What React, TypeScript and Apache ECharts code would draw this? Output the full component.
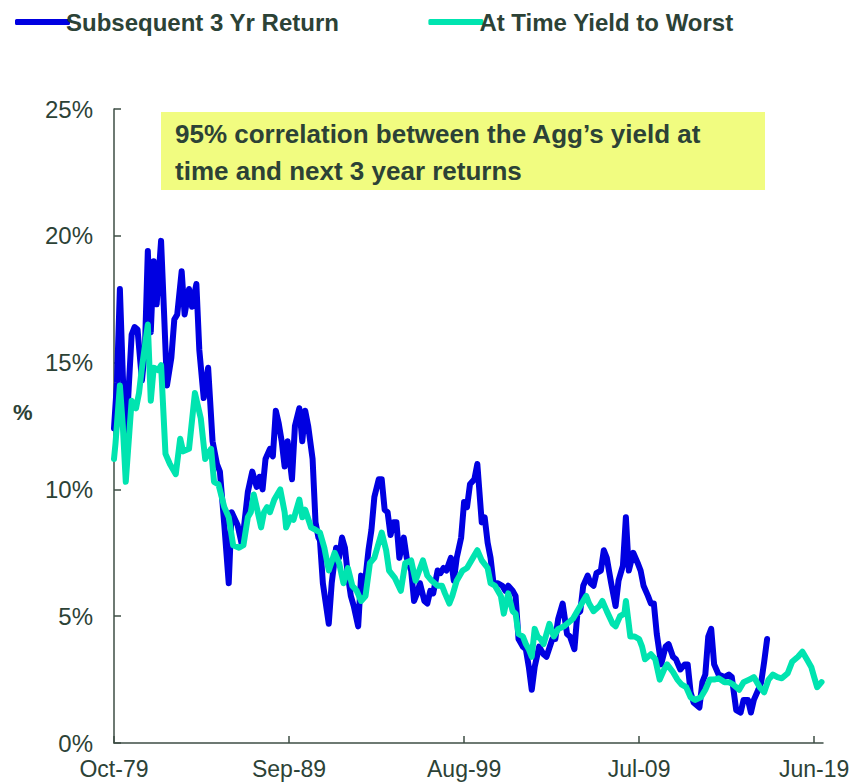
import React, { useEffect, useRef } from "react";
import * as echarts from "echarts";

// x values are months since Oct-1979
const xTickMonths = [0, 119, 238, 357, 476];
const xTickLabels = ["Oct-79", "Sep-89", "Aug-99", "Jul-09", "Jun-19"];
const yTicks = [0, 5, 10, 15, 20, 25];

const seriesNames = ["Subsequent 3 Yr Return", "At Time Yield to Worst"];

// Subsequent 3 Yr Return (%): [month, value]
const returnData = [
  [0, 12.4], [2, 14.2], [4, 17.9], [6, 14.5], [8, 11.8], [10, 14.0], [12, 16.1], [14, 16.4], [16, 16.3], [19, 14.3],
  [21, 15.5], [23, 19.4], [25, 16.2], [27, 19.0], [29, 17.3], [32, 19.8], [34, 17.0], [36, 14.1], [39, 15.2], [41, 16.7],
  [43, 16.9], [46, 18.6], [48, 16.9], [51, 17.9], [53, 17.2], [56, 18.1], [58, 15.5], [61, 13.6], [64, 14.8], [67, 11.9],
  [70, 11.0], [72, 10.7], [75, 8.6], [78, 6.3], [80, 9.1], [84, 8.6], [87, 7.8], [91, 9.9], [94, 10.7], [97, 10.1],
  [99, 10.5], [101, 10.0], [103, 11.2], [106, 11.6], [108, 11.3], [110, 13.1], [112, 12.6], [114, 11.9], [116, 10.9], [118, 11.9],
  [121, 10.4], [123, 12.5], [126, 13.2], [128, 11.9], [130, 13.1], [132, 12.5], [135, 11.2], [137, 8.7], [139, 8.1], [140, 8.0],
  [142, 6.3], [146, 4.7], [148, 6.3], [151, 7.7], [153, 7.3], [155, 8.1], [157, 7.7], [159, 6.6], [161, 5.8], [163, 5.4],
  [166, 4.6], [168, 6.6], [170, 6.0], [173, 7.6], [175, 8.4], [177, 9.7], [180, 10.4], [182, 10.4], [184, 9.2], [186, 9.1],
  [188, 8.2], [190, 8.7], [192, 8.7], [194, 7.3], [197, 8.1], [199, 7.3], [202, 6.8], [204, 5.6], [206, 5.9], [208, 6.3],
  [211, 5.6], [213, 5.5], [215, 6.0], [217, 5.9], [220, 6.8], [222, 6.7], [224, 6.9], [226, 6.8], [229, 7.3], [231, 6.4],
  [233, 7.3], [236, 8.1], [238, 9.5], [240, 9.3], [242, 10.2], [245, 10.4], [247, 11.0], [250, 8.7], [252, 8.9], [254, 7.9],
  [256, 7.3], [258, 6.3], [261, 6.3], [264, 6.2], [266, 6.0], [268, 6.2], [271, 6.0], [273, 5.8], [275, 4.1], [278, 3.8],
  [280, 3.7], [282, 3.0], [284, 2.1], [286, 3.0], [289, 3.8], [292, 3.5], [294, 3.4], [298, 4.1], [300, 4.1], [302, 4.9],
  [305, 5.5], [308, 4.3], [310, 4.2], [313, 3.7], [315, 5.1], [317, 5.2], [319, 6.2], [322, 6.6], [324, 6.3], [326, 6.2],
  [328, 6.7], [331, 6.8], [333, 7.6], [335, 7.3], [338, 6.3], [341, 5.4], [343, 6.4], [346, 7.0], [348, 8.9], [350, 6.8],
  [353, 7.5], [356, 7.1], [358, 6.8], [360, 6.2], [363, 5.8], [365, 5.5], [367, 5.5], [369, 4.3], [372, 3.1], [375, 3.8],
  [377, 3.9], [380, 3.4], [382, 3.3], [385, 2.9], [388, 3.1], [390, 3.1], [392, 2.0], [394, 1.6], [398, 1.4], [400, 2.4],
  [402, 2.7], [404, 4.2], [406, 4.5], [408, 3.1], [411, 2.7], [415, 2.6], [418, 2.7], [420, 2.6], [423, 1.3], [426, 1.2],
  [428, 1.7], [431, 1.7], [433, 1.2], [435, 1.7], [438, 2.1], [440, 2.4], [442, 3.2], [444, 4.1],
];

// At Time Yield to Worst (%): [month, value]
const yieldData = [
  [0, 11.2], [1, 11.8], [4, 14.1], [6, 12.5], [8, 10.3], [12, 13.5], [15, 13.2], [17, 13.8], [19, 14.8], [23, 16.5],
  [25, 13.5], [27, 14.8], [30, 14.7], [32, 14.9], [35, 11.4], [38, 11.0], [42, 10.6], [45, 12.0], [47, 11.5], [51, 11.6],
  [55, 13.8], [59, 12.8], [62, 11.2], [66, 11.6], [68, 10.3], [71, 10.2], [75, 9.3], [78, 8.9], [81, 7.8], [85, 7.7],
  [88, 7.8], [91, 8.9], [93, 9.1], [95, 9.8], [97, 9.3], [100, 8.5], [102, 9.1], [104, 9.3], [106, 9.1], [109, 9.6],
  [111, 9.8], [113, 10.0], [116, 9.1], [117, 8.5], [120, 8.9], [122, 8.8], [126, 9.6], [128, 8.9], [130, 9.2], [134, 8.5],
  [137, 8.4], [140, 8.3], [143, 7.7], [146, 6.8], [150, 7.5], [153, 7.1], [156, 6.3], [159, 6.9], [162, 6.2], [165, 6.0],
  [168, 5.6], [171, 5.8], [174, 7.1], [177, 7.3], [179, 7.7], [182, 8.3], [185, 7.6], [187, 6.8], [191, 6.5], [195, 6.0],
  [198, 7.1], [202, 7.2], [205, 6.4], [210, 7.2], [213, 6.6], [216, 6.4], [220, 6.2], [223, 6.2], [225, 5.9], [228, 5.5],
  [230, 5.8], [233, 6.4], [237, 6.8], [240, 6.9], [244, 7.3], [247, 7.6], [250, 7.2], [254, 6.9], [256, 6.3], [259, 6.2],
  [263, 5.8], [265, 5.1], [268, 5.9], [271, 5.2], [273, 5.1], [275, 4.3], [278, 4.2], [280, 3.9], [282, 3.7], [284, 3.4],
  [286, 4.5], [288, 4.2], [290, 4.1], [292, 3.9], [296, 4.7], [299, 4.2], [302, 4.5], [306, 4.6], [308, 4.7], [312, 4.9],
  [315, 5.2], [318, 5.5], [321, 5.8], [323, 5.5], [326, 5.2], [330, 5.4], [332, 5.6], [335, 5.2], [339, 4.7], [341, 4.6],
  [344, 5.0], [347, 5.1], [348, 5.6], [351, 4.2], [354, 4.2], [357, 4.1], [359, 3.8], [361, 3.3], [365, 3.5], [368, 3.3],
  [371, 2.5], [374, 2.9], [376, 3.1], [380, 2.8], [383, 2.5], [386, 2.3], [389, 2.2], [392, 1.8], [395, 1.7], [399, 1.8],
  [402, 2.1], [405, 2.5], [408, 2.5], [411, 2.55], [415, 2.4], [418, 2.4], [421, 2.3], [425, 2.1], [428, 2.4], [432, 2.5],
  [435, 2.6], [439, 2.2], [442, 2.0], [445, 2.5], [448, 2.7], [451, 2.6], [454, 2.55], [458, 2.75], [461, 3.2], [465, 3.4],
  [468, 3.6], [471, 3.3], [474, 3.0], [476, 2.6], [478, 2.2], [481, 2.4],
];

const noteLines = [
  "95% correlation between the Agg\u2019s yield at",
  "time and next 3 year returns",
];

const TEXT = "#2C4236";
const AXIS = "#3E4E45";
const BLUE = "#0000E1";
const GREEN = "#00E4B0";
const FONT = '"Liberation Sans", Arial, sans-serif';

export default function App() {
  const ref = useRef<HTMLDivElement>(null);

  useEffect(() => {
    if (!ref.current) return;
    const chart = echarts.init(ref.current, null, { renderer: "svg" });
    chart.setOption({
      animation: false,
      backgroundColor: "#ffffff",
      textStyle: { fontFamily: FONT },
      legend: {
        left: 10,
        top: 5,
        itemWidth: 55,
        itemHeight: 6,
        itemGap: 89,
        icon: "roundRect",
        data: seriesNames,
        textStyle: {
          fontFamily: FONT,
          fontSize: 24,
          fontWeight: "bold",
          color: TEXT,
          padding: [0, 0, 0, -9],
        },
      },
      grid: { left: 114, right: 31, top: 109, bottom: 39 },
      xAxis: {
        type: "value",
        min: 0,
        max: 482,
        splitLine: { show: false },
        axisLine: { show: true, lineStyle: { color: AXIS, width: 1.5 } },
        axisTick: {
          show: true,
          inside: true,
          length: 7,
          customValues: xTickMonths,
          lineStyle: { color: AXIS, width: 1.5 },
        },
        axisLabel: {
          customValues: xTickMonths,
          formatter: (v: number) => {
            const i = xTickMonths.indexOf(v);
            return i >= 0 ? xTickLabels[i] : "";
          },
          fontFamily: FONT,
          fontSize: 23,
          color: TEXT,
          margin: 14,
        },
      },
      yAxis: {
        type: "value",
        min: yTicks[0],
        max: yTicks[yTicks.length - 1],
        interval: 5,
        splitLine: { show: false },
        axisLine: { show: true, lineStyle: { color: AXIS, width: 1.5 } },
        axisTick: { show: true, inside: true, length: 7, lineStyle: { color: AXIS, width: 1.5 } },
        axisLabel: {
          formatter: "{value}%",
          fontFamily: FONT,
          fontSize: 24,
          color: TEXT,
          margin: 21,
        },
      },
      graphic: [
        {
          type: "rect",
          shape: { x: 161, y: 112, width: 604, height: 78 },
          style: { fill: "#F1FC80" },
          z: 1,
        },
        {
          type: "text",
          x: 175,
          y: 134,
          style: {
            text: noteLines[0],
            font: `bold 26px ${FONT}`,
            fill: TEXT,
            verticalAlign: "middle",
          },
          z: 2,
        },
        {
          type: "text",
          x: 175,
          y: 171,
          style: {
            text: noteLines[1],
            font: `bold 26px ${FONT}`,
            fill: TEXT,
            verticalAlign: "middle",
          },
          z: 2,
        },
        {
          type: "text",
          x: 13,
          y: 412,
          style: {
            text: "%",
            font: `bold 22px ${FONT}`,
            fill: TEXT,
            verticalAlign: "middle",
          },
        },
      ],
      series: [
        {
          name: seriesNames[0],
          type: "line",
          data: returnData,
          symbol: "none",
          showSymbol: false,
          color: BLUE,
          lineStyle: { color: BLUE, width: 6, cap: "round", join: "round" },
        },
        {
          name: seriesNames[1],
          type: "line",
          data: yieldData,
          symbol: "none",
          showSymbol: false,
          color: GREEN,
          lineStyle: { color: GREEN, width: 6, cap: "round", join: "round" },
        },
      ],
    });
    return () => chart.dispose();
  }, []);

  return (
    <div
      ref={ref}
      style={{ position: "fixed", left: 0, top: 0, width: 854, height: 782 }}
    />
  );
}
